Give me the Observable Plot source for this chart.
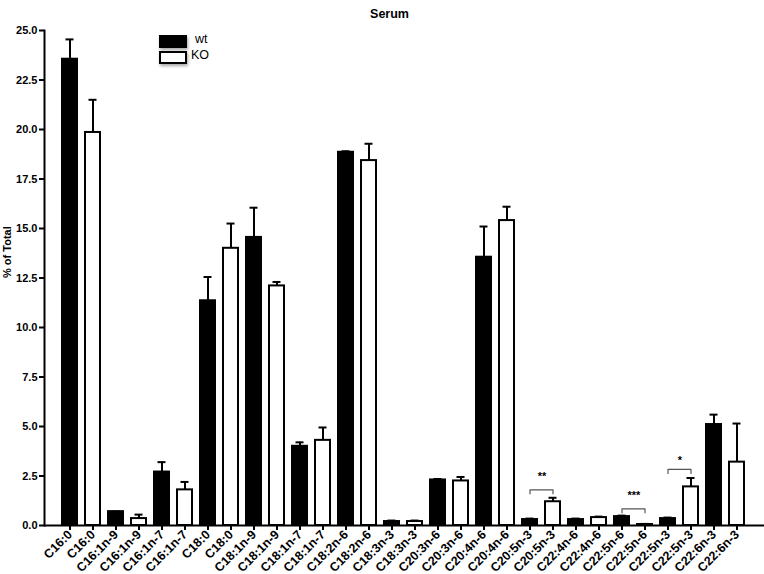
<!DOCTYPE html>
<html><head><meta charset="utf-8">
<script src="https://cdn.jsdelivr.net/npm/d3@7"></script>
<script src="https://cdn.jsdelivr.net/npm/@observablehq/plot@0.6"></script>
<style>
body{margin:0;background:#fff}
#wrap{position:relative;width:764px;height:574px;font-family:"Liberation Sans",Arial,Helvetica,sans-serif}
.box{position:absolute;box-sizing:border-box;box-shadow:1px 2px 3px rgba(0,0,0,0.35)}
.lt{position:absolute;font-size:12.5px;line-height:14px;color:#000}
</style></head><body><div id="wrap"></div>
<script>
const categories = ["C16:0","C16:1n-9","C16:1n-7","C18:0","C18:1n-9","C18:1n-7","C18:2n-6","C18:3n-3","C20:3n-6","C20:4n-6","C20:5n-3","C22:4n-6","C22:5n-6","C22:5n-3","C22:6n-3"];
const wtMean = [23.55, 0.70, 2.70, 11.35, 14.55, 4.00, 18.85, 0.20, 2.30, 13.55, 0.30, 0.30, 0.45, 0.35, 5.10];
const wtUpper = [24.55, 0.70, 3.20, 12.55, 16.05, 4.20, 18.90, 0.25, 2.35, 15.10, 0.35, 0.35, 0.50, 0.40, 5.60];
const koMean = [19.85, 0.35, 1.80, 14.00, 12.10, 4.30, 18.43, 0.20, 2.25, 15.40, 1.20, 0.40, 0.05, 1.95, 3.20];
const koUpper = [21.50, 0.55, 2.20, 15.25, 12.30, 4.95, 19.28, 0.25, 2.45, 16.10, 1.40, 0.45, 0.08, 2.40, 5.15];
const yTicks = [0, 2.5, 5, 7.5, 10, 12.5, 15, 17.5, 20, 22.5, 25];
// significance brackets: category index, bracket level, star label
const sigCategory = [10, 12, 13];
const sigLevel = [1.80, 0.84, 2.83];
const sigLabel = ["**", "***", "*"];
const sigStarY = [2.47, 1.50, 3.30];

const rows = [];
categories.forEach((c, i) => {
  rows.push({idx: 2*i, label: c, group: "wt", value: wtMean[i], upper: wtUpper[i]});
  rows.push({idx: 2*i+1, label: c, group: "KO", value: koMean[i], upper: koUpper[i]});
});
const labelOf = i => rows[i].label;

const bracketPts = [];
sigCategory.forEach((c, k) => {
  const a = 2*c, b = 2*c+1, L = sigLevel[k];
  bracketPts.push({k, x: a, y: L - 0.2}, {k, x: a, y: L}, {k, x: b, y: L}, {k, x: b, y: L - 0.2});
});
const stars = sigCategory.map((c, k) => ({x: 2*c, y: sigStarY[k], t: sigLabel[k]}));

const font = '"Liberation Sans", Arial, Helvetica, sans-serif';
const xRange = [41.97, 763.7];
const step = (xRange[1] - xRange[0]) / (rows.length + 0.26);
const chart = Plot.plot({
  width: 764, height: 574,
  marginLeft: 44, marginRight: 0, marginTop: 30, marginBottom: 49,
  style: {fontFamily: font, fontSize: "11px", fontWeight: "bold", background: "#fff", color: "#000"},
  x: {type: "band", domain: d3.range(rows.length), range: xRange, padding: 0.26},
  y: {domain: [0, 25]},
  marks: [
    Plot.ruleX(rows, {x: "idx", y1: "value", y2: "upper", stroke: "#000", strokeWidth: 2}),
    Plot.tickY(rows, {x: "idx", y: "upper", stroke: "#000", strokeWidth: 2, insetLeft: 4.5, insetRight: 4.5}),
    Plot.barY(rows, {x: "idx", y: "value", fill: d => d.group === "wt" ? "#000" : "#fff", stroke: "#000", strokeWidth: 2, insetLeft: 1, insetRight: 1}),
    Plot.line(bracketPts, {x: "x", y: "y", z: "k", stroke: "#555", strokeWidth: 1.2, curve: "linear"}),
    Plot.text(stars, {x: "x", y: "y", text: "t", fill: "#000", fontSize: 11, fontWeight: "bold", dx: step / 2}),
    Plot.ruleY([0], {stroke: "#000", strokeWidth: 2}),
    Plot.frame({anchor: "left", stroke: "#000", strokeWidth: 2}),
    Plot.axisY({ticks: yTicks, tickFormat: d => d.toFixed(1), tickSize: 5, tickPadding: 2, strokeWidth: 2, label: null, fontWeight: "bold", fontSize: 11}),
    Plot.axisX({tickFormat: labelOf, tickRotate: -45, tickSize: 5, tickPadding: 2, strokeWidth: 2, label: null, fontWeight: "bold", fontSize: 12.5}),
    Plot.text(["% of Total"], {frameAnchor: "left", rotate: -90, dx: -37, fontSize: 11, fontWeight: "bold"}),
    Plot.text(["Serum"], {frameAnchor: "top", dy: -21, dx: -15, fontSize: 12.5, fontWeight: "bold"})
  ]
});
const wrap = document.getElementById("wrap");
wrap.appendChild(chart);
const legend = [
  {name: "wt", fill: "#000", top: 35, textLeft: 195},
  {name: "KO", fill: "#fff", top: 51, textLeft: 191}
];
legend.forEach(l => {
  const b = document.createElement("div");
  b.className = "box";
  Object.assign(b.style, {left: "159px", top: l.top + "px", width: "28px", height: "13px", background: l.fill, border: "2px solid #000"});
  wrap.appendChild(b);
  const t = document.createElement("div");
  t.className = "lt";
  t.textContent = l.name;
  Object.assign(t.style, {left: l.textLeft + "px", top: (l.top - 3) + "px"});
  wrap.appendChild(t);
});
</script></body></html>
